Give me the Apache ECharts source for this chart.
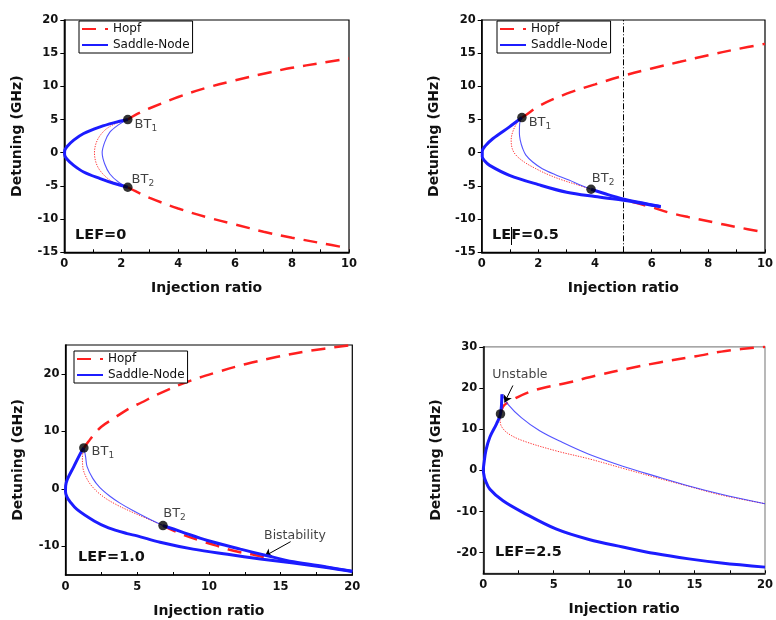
<!DOCTYPE html>
<html>
<head>
<meta charset="utf-8">
<script src="https://cdn.jsdelivr.net/npm/echarts@6/dist/echarts.min.js"></script>
<style>
  html, body { margin: 0; padding: 0; background: #fff; }
  #chart { width: 776px; height: 620px; }
</style>
</head>
<body>
<div id="chart"></div>
<script>
// ---------- LEF = 0 ----------
const hopf0Upper = [[2.23,5.0],[2.5,5.7],[3,6.7],[4,8.4],[5,9.8],[6,10.9],[7,11.9],[8,12.8],[9,13.5],[10,14.2]];
const hopf0Lower = [[2.23,-5.2],[2.5,-5.8],[3,-6.8],[4,-8.4],[5,-9.7],[6,-10.8],[7,-11.9],[8,-12.8],[9,-13.6],[10,-14.4]];
const hopf0Inner = [[2.23,5.0],[1.75,4.3],[1.4,3.3],[1.15,1.8],[1.06,0],[1.15,-1.9],[1.4,-3.4],[1.75,-4.5],[2.23,-5.2]];
const sn0Inner = [[2.23,5.0],[1.9,4.2],[1.6,3.1],[1.42,1.6],[1.33,0],[1.42,-1.7],[1.6,-3.2],[1.9,-4.4],[2.23,-5.2]];
const sn0 = [[2.23,5.0],[1.73,4.5],[1.26,3.9],[0.68,2.9],[0.33,1.9],[0.09,0.9],[0.01,0.2],[0.01,-0.25],[0.09,-0.95],[0.33,-1.9],[0.68,-2.9],[1.26,-3.9],[1.73,-4.6],[2.23,-5.2]];
const bt0 = [[2.23,5.0],[2.23,-5.2]];

// ---------- LEF = 0.5 ----------
const hopf05Upper = [[1.42,5.3],[1.6,5.8],[2,7.0],[3,8.9],[4,10.3],[5,11.6],[6,12.7],[7,13.7],[8,14.7],[9,15.6],[10,16.4]];
const hopf05Lower = [[5.3,-7.4],[6,-8.2],[6.6,-9.0],[7.3,-9.7],[8.2,-10.5],[9,-11.2],[10,-12.0]];
const hopf05Inner = [[1.42,5.3],[1.25,4.5],[1.1,3.2],[1.04,1.9],[1.08,0.6],[1.21,-0.36],[1.5,-1.4],[1.91,-2.4],[2.35,-3.3],[2.84,-4.1],[3.35,-4.8],[3.86,-5.5]];
const sn05Inner = [[1.42,5.3],[1.34,4.4],[1.33,3.0],[1.36,1.9],[1.45,0.6],[1.56,-0.36],[1.8,-1.4],[2.14,-2.4],[2.6,-3.3],[3.08,-4.1],[3.5,-4.9],[3.86,-5.5]];
const sn05 = [[1.42,5.3],[0.98,3.9],[0.4,2.15],[0.12,1.0],[0.02,0.2],[0.02,-0.6],[0.1,-1.2],[0.28,-1.9],[0.98,-3.4],[2,-4.8],[3,-5.95],[4,-6.6],[5,-7.15],[6,-7.9],[6.32,-8.15]];
const sn05Branch = [[3.86,-5.5],[4.48,-6.35],[4.98,-6.95],[5.6,-7.5],[6.32,-8.1]];
const bt05 = [[1.42,5.3],[3.86,-5.5]];
const ratioLimit05 = [5];

// ---------- LEF = 1.0 ----------
const hopf1Upper = [[1.28,7.1],[1.6,8.2],[2,9.5],[2.5,10.8],[3.4,12.3],[4.4,13.9],[5.3,15.0],[6.5,16.5],[8.5,18.6],[10.6,20.3],[12.6,21.7],[14.7,22.9],[16.8,23.9],[20,25]];
const hopf1Lower = [[6.8,-6.4],[8,-7.8],[9.6,-9.2],[10.4,-9.8],[11.3,-10.5],[12.1,-11.0],[13,-11.4],[13.8,-11.9],[14.2,-12.1]];
const hopf1Inner = [[1.28,7.1],[1.18,5.5],[1.2,3.9],[1.5,1.7],[2.0,0.0],[2.7,-1.5],[3.5,-2.7],[4.5,-3.9],[5.6,-5.1],[6.8,-6.4]];
const sn1Inner = [[1.28,7.1],[1.4,5.6],[1.5,3.9],[1.9,1.8],[2.4,0.2],[3.1,-1.3],[3.8,-2.5],[4.7,-3.8],[5.7,-5.1],[6.8,-6.4]];
const sn1 = [[1.28,7.1],[1.05,6.2],[0.58,3.85],[0.12,1.6],[0.01,0.5],[0,-0.5],[0.1,-1.4],[0.3,-2.2],[0.8,-3.6],[2,-5.6],[3,-6.8],[4.3,-7.8],[5,-8.2],[6.6,-9.3],[8.9,-10.5],[11.3,-11.4],[13.6,-12.2],[15.9,-12.9],[18.2,-13.7],[20,-14.4]];
const sn1Branch = [[6.8,-6.4],[8,-7.4],[9.9,-9.0],[12.2,-10.5],[14,-11.6],[15.9,-12.7],[18.2,-13.6],[20,-14.35]];
const bt1 = [[1.28,7.1],[6.8,-6.4]];

// ---------- LEF = 2.5 ----------
const hopf25Upper = [[1.22,13.7],[1.39,15.4],[1.65,16.3],[2.45,17.8],[3.5,19.3],[4.45,20.2],[5.9,21.2],[8,23.0],[10.4,24.8],[12.5,26.2],[15.1,27.7],[17.2,29.0],[20,30]];
const hopf25Inner = [[1.22,13.7],[1.2,12.3],[1.27,10.8],[1.74,9.0],[2.8,7.2],[5.2,4.7],[7.5,2.8],[9.9,0.5],[12.2,-1.7],[14.6,-3.9],[16.9,-6.0],[20,-8.1]];
const sn25Inner = [[1.32,18.5],[1.74,16.1],[2.7,12.8],[4,9.6],[5.6,6.8],[7.5,3.9],[9.9,1.0],[12.2,-1.4],[14.6,-3.8],[16.9,-5.8],[20,-8.1]];
const sn25 = [[1.32,18.5],[1.22,13.7],[0.94,11.3],[0.47,8.1],[0.19,4.9],[0.05,1.75],[0,0],[0.05,-1.2],[0.12,-2.2],[0.47,-4.6],[1.4,-7.4],[2.8,-10.2],[5.2,-14.3],[7.5,-16.8],[9.9,-18.6],[12.2,-20.2],[14.6,-21.5],[16.9,-22.5],[20,-23.5]];
const bt25 = [[1.22,13.7]];

// tick labels
const xTicksShort = [0, 2, 4, 6, 8, 10];
const xTicksLong = [0, 5, 10, 15, 20];
const yTicksLef0 = [-15, -10, -5, 0, 5, 10, 15, 20];
const yTicksLef1 = [-10, 0, 10, 20];
const yTicksLef25 = [-20, -10, 0, 10, 20, 30];

const legendNames = ['Hopf', 'Saddle-Node'];
const panelTitles = ['LEF=0', 'LEF=0.5', 'LEF=1.0', 'LEF=2.5'];

const FONT = 'DejaVu Sans';
const RED = '#ff1f1f';
const BLUE = '#1c1cff';

const styleHopf = { color: RED, width: 2.5, type: [14, 9] };
const styleHopfThin = { color: RED, width: 1, type: [1.3, 1.3], opacity: 0.9 };
const styleSN = { color: BLUE, width: 3 };
const styleSNThin = { color: '#3535ff', width: 1.1, opacity: 0.85 };

function line(name, idx, data, style, z) {
  return {
    type: 'line', name: name, xAxisIndex: idx, yAxisIndex: idx,
    data: data, symbol: 'none', smooth: 0.35, silent: true, z: z,
    itemStyle: { color: style.color }, lineStyle: style
  };
}

function dots(idx, data, labels) {
  return {
    type: 'scatter', name: 'BT', xAxisIndex: idx, yAxisIndex: idx, z: 10, silent: true,
    symbolSize: 9.5, itemStyle: { color: '#000' },
    data: data.map((v, i) => {
      const item = { value: v };
      if (labels && labels[i]) {
        item.label = {
          show: true, position: 'right', distance: 2, offset: labels[i].offset,
          formatter: '{m|BT}{s|' + (i + 1) + '}',
          rich: {
            m: { fontSize: 13, fontFamily: FONT, color: '#111' },
            s: { fontSize: 9, fontFamily: FONT, color: '#111', padding: [8, 0, 0, 0] }
          }
        };
      }
      return item;
    })
  };
}

function note(idx, text, at, from, to) {
  return {
    type: 'scatter', name: text, xAxisIndex: idx, yAxisIndex: idx, z: 11, silent: true,
    symbolSize: 1, itemStyle: { color: 'rgba(0,0,0,0)' },
    data: [{ value: at }],
    label: { show: true, position: 'inside', formatter: text, fontSize: 12.5, fontFamily: FONT, color: '#111' },
    markLine: {
      silent: true, symbol: ['none', 'arrow'], symbolSize: 7, animation: false,
      lineStyle: { color: '#000', width: 1, type: 'solid' }, label: { show: false },
      data: [[{ coord: from }, { coord: to }]]
    }
  };
}

const grids = [
  { left: 64.3, top: 20, width: 284.7, height: 232.3 },
  { left: 481.7, top: 20, width: 286, height: 232.3 },
  { left: 65.5, top: 345, width: 286.8, height: 230 },
  { left: 483.3, top: 346.8, width: 281.7, height: 226.5, borderColor: '#8a8a8a' }
].map(g => Object.assign({ show: true, borderColor: '#000', borderWidth: 1.2, containLabel: false }, g));

const tickFont = { fontSize: 11.5, fontWeight: 'bold', fontFamily: FONT, color: '#111' };
const nameFont = { fontSize: 14, fontWeight: 'bold', fontFamily: FONT, color: '#111' };

function xAxis(idx, max, ticks) {
  const step = ticks[1] - ticks[0];
  return {
    type: 'value', gridIndex: idx, min: ticks[0], max: max, interval: step,
    name: 'Injection ratio', nameLocation: 'middle', nameGap: 29, nameTextStyle: nameFont,
    axisLine: { show: true, onZero: false, lineStyle: { color: '#000', width: 1.5 } },
    axisTick: { show: true, inside: true, length: 3, lineStyle: { color: '#000', width: 1 } },
    minorTick: { show: true, splitNumber: 2, length: 3, lineStyle: { color: '#000', width: 1 } },
    axisLabel: Object.assign({ margin: 6 }, tickFont),
    splitLine: { show: false }
  };
}

function yAxis(idx, min, max, ticks) {
  return {
    type: 'value', gridIndex: idx, min: min, max: max,
    name: 'Detuning (GHz)', nameLocation: 'middle', nameRotate: 90, nameGap: 40, nameTextStyle: nameFont,
    axisLine: { show: true, onZero: false, lineStyle: { color: '#000', width: 1.5 } },
    axisTick: { show: true, inside: false, length: 4, customValues: ticks, lineStyle: { color: '#000', width: 1 } },
    axisLabel: Object.assign({ margin: 6, customValues: ticks }, tickFont),
    splitLine: { show: false }
  };
}

const legendBase = {
  orient: 'vertical', data: legendNames, selectedMode: false,
  itemWidth: 26, itemHeight: 14, itemGap: 2, padding: [1, 3, 1, 2],
  borderColor: '#000', borderWidth: 1, backgroundColor: '#fff',
  itemStyle: { opacity: 0 },
  textStyle: { fontSize: 12, fontFamily: FONT, color: '#111', lineHeight: 14 }
};

const series = [
  // LEF = 0
  line('Hopf', 0, hopf0Upper, styleHopf, 2),
  line('Hopf', 0, hopf0Lower, styleHopf, 2),
  line('hopfInner', 0, hopf0Inner, styleHopfThin, 3),
  line('snInner', 0, sn0Inner, styleSNThin, 4),
  line('Saddle-Node', 0, sn0, styleSN, 5),
  dots(0, bt0, [{ offset: [0, 5] }, { offset: [-3, -8] }]),

  // LEF = 0.5
  line('Hopf', 1, hopf05Upper, styleHopf, 2),
  line('Hopf', 1, hopf05Lower, styleHopf, 2),
  line('hopfInner', 1, hopf05Inner, styleHopfThin, 3),
  line('snInner', 1, sn05Inner, styleSNThin, 4),
  line('Saddle-Node', 1, sn05, styleSN, 5),
  line('Saddle-Node', 1, sn05Branch, styleSN, 5),
  {
    type: 'line', name: 'limit', xAxisIndex: 1, yAxisIndex: 1, data: [], silent: true, z: 6,
    markLine: {
      silent: true, symbol: ['none', 'none'], animation: false, label: { show: false },
      lineStyle: { color: '#000', width: 1, type: [6, 2, 1, 2] },
      data: ratioLimit05.map(v => ({ xAxis: v }))
    }
  },
  dots(1, bt05, [{ offset: [0, 5] }, { offset: [-6, -11] }]),

  // LEF = 1.0
  line('Hopf', 2, hopf1Upper, styleHopf, 2),
  line('Hopf', 2, hopf1Lower, styleHopf, 2),
  line('hopfInner', 2, hopf1Inner, styleHopfThin, 3),
  line('snInner', 2, sn1Inner, styleSNThin, 4),
  line('Saddle-Node', 2, sn1, styleSN, 5),
  line('Saddle-Node', 2, sn1Branch, styleSN, 5),
  dots(2, bt1, [{ offset: [1, 4] }, { offset: [-6.5, -12] }]),
  note(2, 'Bistability', [16.0, -8.1], [15.7, -9.2], [13.9, -11.7]),

  // LEF = 2.5
  line('Hopf', 3, hopf25Upper, styleHopf, 2),
  line('hopfInner', 3, hopf25Inner, styleHopfThin, 3),
  line('snInner', 3, sn25Inner, styleSNThin, 4),
  line('Saddle-Node', 3, sn25, styleSN, 5),
  dots(3, bt25, null),
  note(3, 'Unstable', [2.6, 23.2], [2.1, 20.6], [1.51, 16.5])
];

const lefText = (x, y, text) => ({
  type: 'text', x: x, y: y, silent: true, z: 100,
  style: { text: text, fontSize: 14.5, fontWeight: 'bold', fontFamily: FONT, fill: '#111', verticalAlign: 'middle', textAlign: 'left' }
});

const option = {
  animation: false,
  textStyle: { fontFamily: FONT },
  grid: grids,
  xAxis: [xAxis(0, 10, xTicksShort), xAxis(1, 10, xTicksShort), xAxis(2, 20, xTicksLong), xAxis(3, 20, xTicksLong)],
  yAxis: [
    Object.assign(yAxis(0, -15, 20, yTicksLef0), { interval: 5 }),
    Object.assign(yAxis(1, -15, 20, yTicksLef0), { interval: 5 }),
    yAxis(2, -15, 25, yTicksLef1),
    yAxis(3, -25, 30, yTicksLef25)
  ],
  legend: [
    Object.assign({ left: 79, top: 21 }, legendBase),
    Object.assign({ left: 497, top: 21 }, legendBase),
    Object.assign({ left: 74, top: 351 }, legendBase)
  ],
  graphic: [
    lefText(75, 235, panelTitles[0]),
    lefText(492, 235, panelTitles[1]),
    { type: 'line', silent: true, z: 101, shape: { x1: 511.5, y1: 227, x2: 511.5, y2: 245 }, style: { stroke: '#000', lineWidth: 1 } },
    lefText(78, 557, panelTitles[2]),
    lefText(495, 552.5, panelTitles[3])
  ],
  series: series
};

const chart = echarts.init(document.getElementById('chart'), null, { renderer: 'canvas' });
chart.setOption(option);
</script>
</body>
</html>
